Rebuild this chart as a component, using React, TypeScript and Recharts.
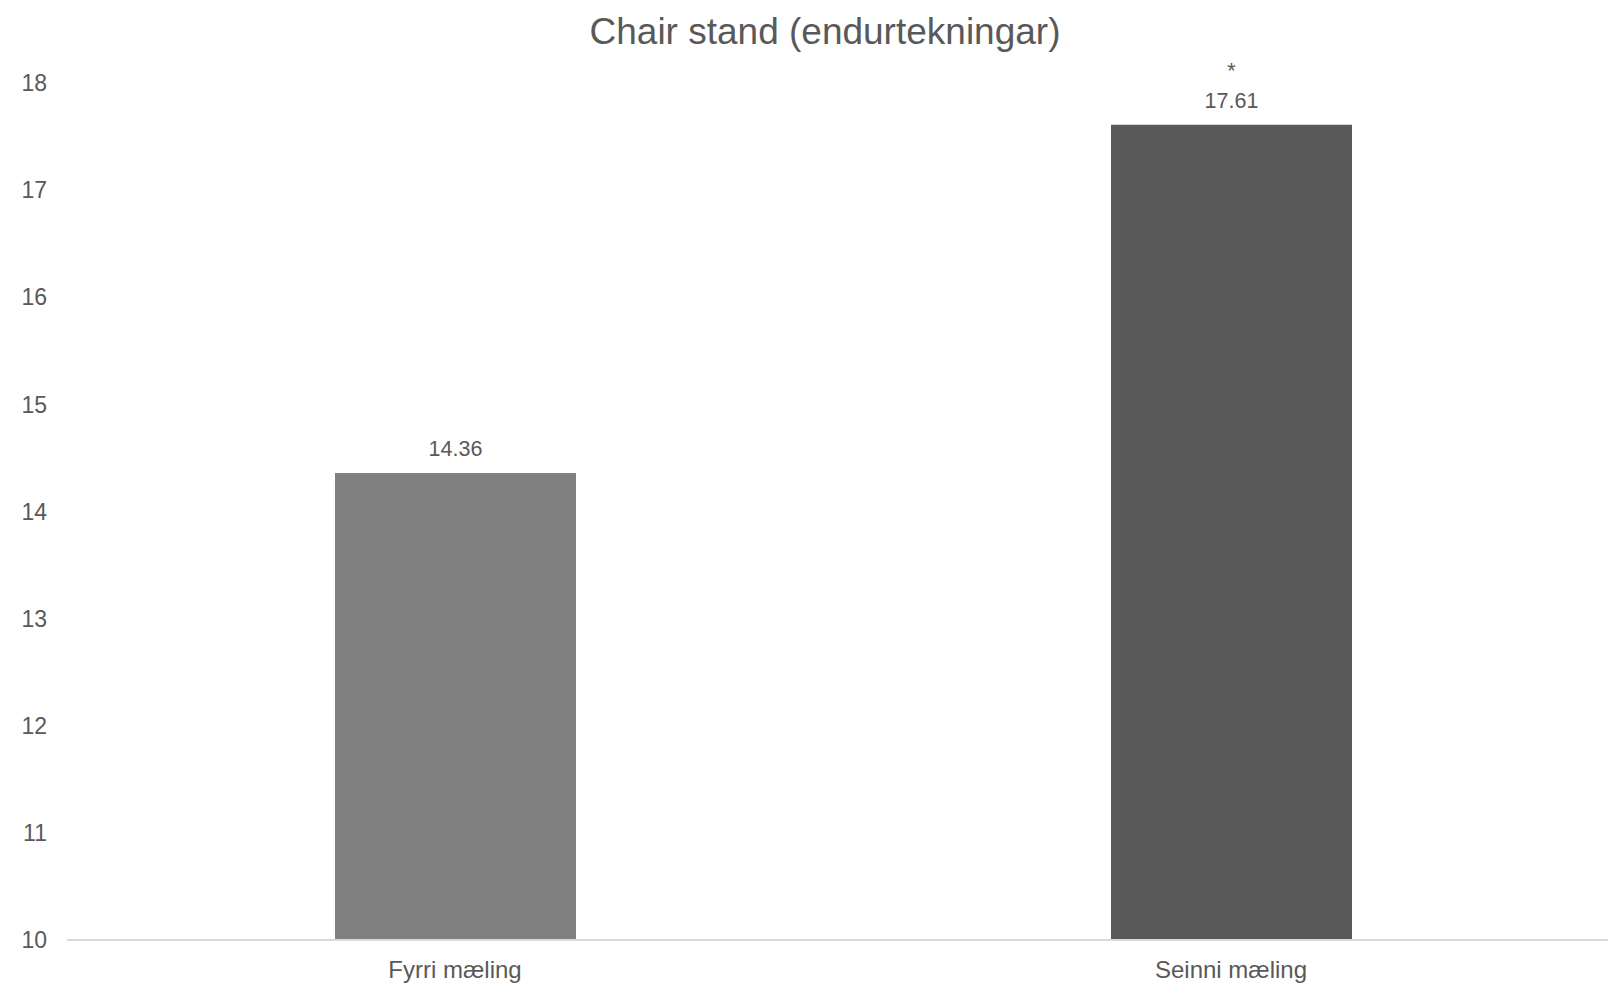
import { Bar, BarChart, Cell, LabelList, XAxis, YAxis } from 'recharts'

const categories = ['Fyrri mæling', 'Seinni mæling']
const values = [14.36, 17.61]
const marks = ['', '*']
const barColors = ['#7f807f', '#595959']
const yTicks = [10, 11, 12, 13, 14, 15, 16, 17, 18]

const data = categories.map((name, i) => ({
    name,
    value: values[i],
    mark: marks[i],
}))

const FONT = '"Liberation Sans", Arial, sans-serif'
const TEXT = '#595959'

function ValueLabel(props: any) {
    const { x, y, width, value, index } = props
    const cx = x + width / 2
    const mark = marks[index]
    return (
        <g>
            <text
                x={cx}
                y={y - 24}
                textAnchor="middle"
                dominantBaseline="central"
                fontSize={21.5}
                fontFamily={FONT}
                fill={TEXT}
            >
                {value.toFixed(2)}
            </text>
            {mark && (
                <text
                    x={cx}
                    y={y - 54}
                    textAnchor="middle"
                    dominantBaseline="central"
                    fontSize={21.5}
                    fontFamily={FONT}
                    fill={TEXT}
                >
                    {mark}
                </text>
            )}
        </g>
    )
}

export default function App() {
    return (
        <div
            style={{
                position: 'absolute',
                left: 0,
                top: 0,
                width: 1608,
                height: 984,
                overflow: 'hidden',
                background: '#fff',
                fontFamily: FONT,
            }}
        >
            <div
                style={{
                    position: 'absolute',
                    left: 0,
                    width: 1650,
                    top: 10,
                    textAlign: 'center',
                    fontSize: 37,
                    color: TEXT,
                    lineHeight: '44px',
                }}
            >
                Chair stand (endurtekningar)
            </div>
            <BarChart
                width={1619}
                height={984}
                data={data}
                margin={{ top: 83, right: 0, bottom: 0, left: 0 }}
            >
                <XAxis
                    dataKey="name"
                    height={44}
                    tickLine={false}
                    axisLine={{ stroke: '#d9d9d9', strokeWidth: 2 }}
                    tick={{ fontSize: 24, fill: TEXT, fontFamily: FONT }}
                    tickMargin={15}
                />
                <YAxis
                    width={67}
                    domain={[10, 18]}
                    ticks={yTicks}
                    allowDataOverflow
                    axisLine={false}
                    tickLine={false}
                    tickSize={0}
                    tickMargin={20}
                    tick={{ fontSize: 23, fill: TEXT, fontFamily: FONT }}
                />
                <Bar dataKey="value" barSize={241} isAnimationActive={false}>
                    {data.map((d, i) => (
                        <Cell key={d.name} fill={barColors[i]} />
                    ))}
                    <LabelList dataKey="value" content={<ValueLabel />} />
                </Bar>
            </BarChart>
        </div>
    )
}
